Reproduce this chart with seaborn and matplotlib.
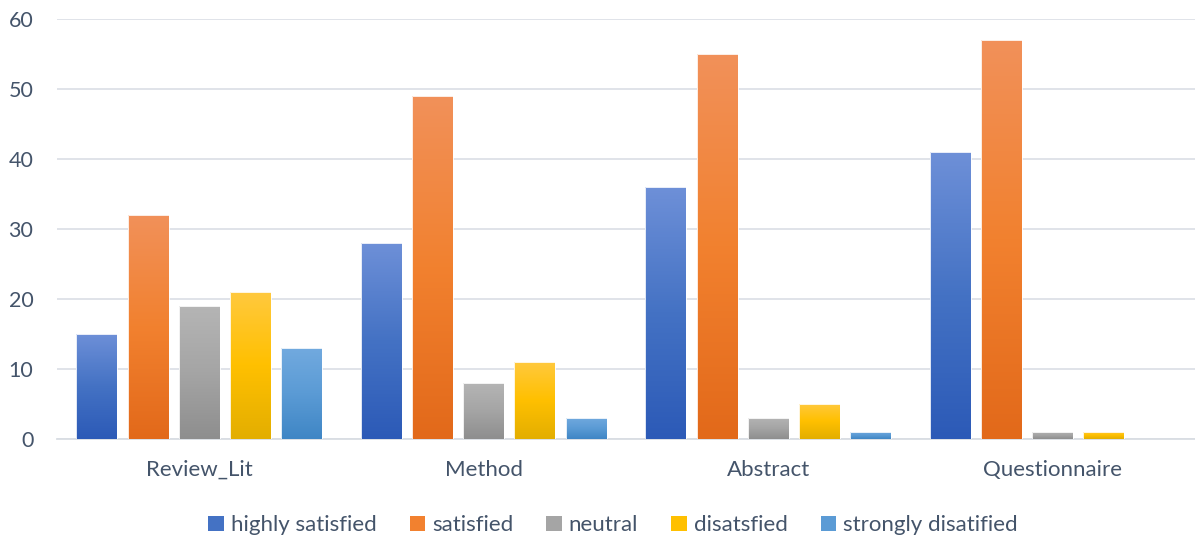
import numpy as np
import pandas as pd
import seaborn as sns
import matplotlib
matplotlib.use("Agg")
import matplotlib.pyplot as plt
from matplotlib.patches import Patch
from matplotlib.colors import to_rgb

# Survey responses per document section
sections = ["Review_Lit", "Method", "Abstract", "Questionnaire"]
levels = ["highly satisfied", "satisfied", "neutral", "disatsfied", "strongly disatified"]
highly_satisfied = [15, 28, 36, 41]
satisfied = [32, 49, 55, 57]
neutral = [19, 8, 3, 1]
disatsfied = [21, 11, 5, 1]
strongly_disatified = [13, 3, 1, 0]
y_ticks = [0, 10, 20, 30, 40, 50, 60]

# Gradient stops per series: top, middle, bottom
palette = {
    "highly satisfied": ("#6E90D8", "#4472C4", "#2C5AB7"),
    "satisfied": ("#F1915A", "#F2812F", "#E2691A"),
    "neutral": ("#B5B5B5", "#A5A5A5", "#8E8E8E"),
    "disatsfied": ("#FFC93F", "#FFC000", "#E3AE00"),
    "strongly disatified": ("#72AADF", "#5B9BD5", "#3F86C5"),
}

series = [highly_satisfied, satisfied, neutral, disatsfied, strongly_disatified]
df = pd.DataFrame({
    "section": np.repeat([sections], len(levels), axis=0).ravel(),
    "level": np.repeat(levels, len(sections)),
    "count": np.concatenate(series),
})

text_color = "#44546A"
sns.set_theme(style="white")
plt.rcParams["font.family"] = ["Lato", "DejaVu Sans"]

fig = plt.figure(figsize=(11.95, 5.42), dpi=100)
ax = fig.add_axes([0.0477, 0.19, 0.9523, 0.775])

sns.barplot(data=df, x="section", y="count", hue="level", order=sections,
            hue_order=levels, palette={k: v[1] for k, v in palette.items()},
            width=0.9, gap=0.2, legend=False, ax=ax, zorder=3,
            errorbar=None)


def gradient(stops, n=256):
    top, mid, bot = (np.array(to_rgb(c)) for c in stops)
    t = np.linspace(0, 1, n)[:, None]
    first = top + (mid - top) * np.clip(t * 2, 0, 1)
    return np.where(t < 0.5, first, mid + (bot - mid) * np.clip(t * 2 - 1, 0, 1))


for level, container in zip(levels, ax.containers):
    img = gradient(palette[level])[:, None, :]
    for bar in container:
        h = bar.get_height()
        if h <= 0:
            bar.set_visible(False)
            continue
        x0 = bar.get_x()
        w = bar.get_width()
        im = ax.imshow(img, extent=[x0, x0 + w, 0, h], aspect="auto",
                       origin="upper", zorder=3, interpolation="nearest")
        im.set_clip_path(bar)
        bar.set_facecolor("none")
        bar.set_edgecolor("#FFFFFF")
        bar.set_linewidth(0.6)
        bar.set_zorder(4)

ax.set_xlim(-0.5, len(sections) - 0.5)
ax.set_ylim(0, 60)
ax.set_yticks(y_ticks)
ax.yaxis.grid(True, color="#DDE1E7", linewidth=1.3, zorder=0)
ax.set_axisbelow(True)
for side in ["top", "right", "left"]:
    ax.spines[side].set_visible(False)
ax.spines["bottom"].set_color("#D9DDE3")
ax.spines["bottom"].set_linewidth(1.3)
ax.set_xlabel("")
ax.set_ylabel("")
ax.tick_params(axis="y", length=0, pad=17, labelsize=15.5, labelcolor=text_color)
ax.tick_params(axis="x", length=0, pad=15, labelsize=16, labelcolor=text_color)

handles = [Patch(facecolor=palette[l][1], edgecolor="none", label=l) for l in levels]
leg = fig.legend(handles=handles, loc="center", bbox_to_anchor=(0.513, 0.031),
                 ncol=5, frameon=False, fontsize=16, handlelength=0.7,
                 handleheight=0.7, handletextpad=0.3, columnspacing=1.5)
for t in leg.get_texts():
    t.set_color(text_color)

fig.savefig("out.png", dpi=100)
